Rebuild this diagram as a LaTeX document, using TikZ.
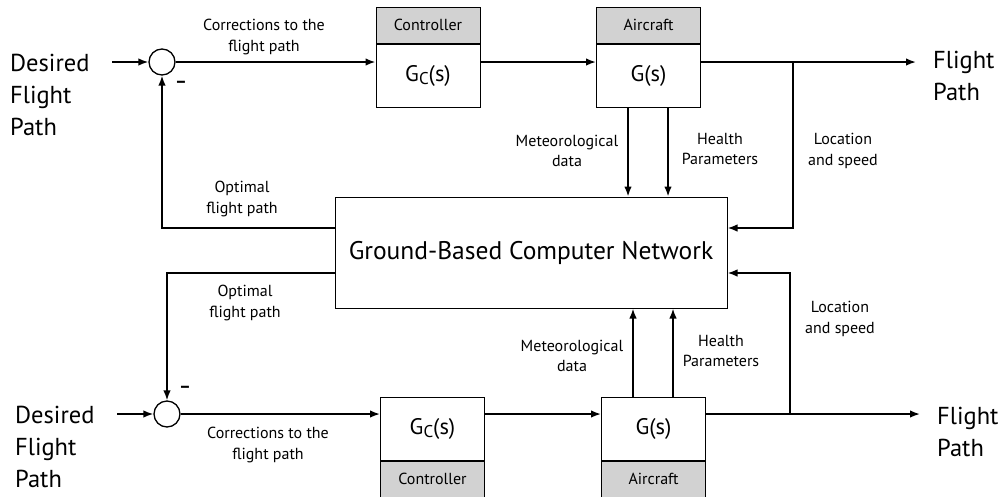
\documentclass[tikz,border=0pt]{standalone}
\usepackage{fontspec}
\setmainfont{PT Sans}
\usetikzlibrary{arrows.meta}

\newcommand{\gsubc}{G\raisebox{-0.3ex}{\fontsize{17}{17}\selectfont C}(s)}

\begin{document}
\begin{tikzpicture}[x=1pt, y=-1pt,
  blk/.style={draw, line width=1pt, minimum width=104pt, minimum height=63pt, inner sep=0pt, font=\fontsize{22.5}{24}\selectfont},
  tag/.style={draw, line width=1pt, fill=gray!35, minimum width=104pt, minimum height=36pt, inner sep=0pt, font=\fontsize{16}{18}\selectfont},
  sumnode/.style={draw, circle, line width=1.3pt, minimum size=26pt, inner sep=0pt},
  lbl/.style={align=center, font=\fontsize{16}{20.5}\selectfont},
  big/.style={align=left, anchor=west, inner sep=0pt, font=\fontsize{24.5}{32}\selectfont},
  arr/.style={line width=1.6pt, -{Latex[length=10pt,width=7.5pt]}},
  wire/.style={line width=1.6pt}]
\useasboundingbox (0,0) rectangle (1004,496);

% upper loop
\node[big] (des1) at (10,95) {Desired\\Flight\\Path};
\node[sumnode] (sum1) at (162,62) {};
\coordinate (in1) at (112,62);
\node[blk] (ctrl1) at (428,75.5) {\gsubc};
\node[tag, anchor=south] (ctrl1h) at (ctrl1.north) {Controller};
\node[blk] (ac1) at (648.5,75.5) {G(s)};
\node[tag, anchor=south] (ac1h) at (ac1.north) {Aircraft};
\coordinate (br1) at (793,62);
\coordinate (out1) at (916,62);
\node[big] (fp1) at (933,76) {Flight\\Path};

% network
\node[draw, line width=1pt, minimum width=392pt, minimum height=111pt, font=\fontsize{25.5}{28}\selectfont] (net) at (531,252.5) {Ground-Based Computer Network};

% lower loop
\node[big] (des2) at (15,447) {Desired\\Flight\\Path};
\node[sumnode] (sum2) at (167,414) {};
\coordinate (in2) at (117,414);
\node[blk] (ctrl2) at (432.5,428.5) {\gsubc};
\node[tag, anchor=north] (ctrl2h) at (ctrl2.south) {Controller};
\node[blk] (ac2) at (653.5,428.5) {G(s)};
\node[tag, anchor=north] (ac2h) at (ac2.south) {Aircraft};
\coordinate (br2) at (790,414);
\coordinate (out2) at (920,414);
\node[big] (fp2) at (937,432) {Flight\\Path};

% upper connectors
\draw[arr] (in1) -- (sum1);
\draw[arr] (sum1) -- (sum1 -| ctrl1.west);
\draw[arr] (sum1 -| ctrl1.east) -- (sum1 -| ac1.west);
\draw[arr] (sum1 -| ac1.east) -- (out1);
\draw[arr] (br1) |- ([yshift=24.5pt]net.east);
\draw[arr] ([yshift=24.5pt]net.west) -| (sum1.south);
\draw[arr] ([xshift=-20.5pt]ac1.south) -- ([xshift=-20.5pt]ac1.south |- net.north);
\draw[arr] ([xshift=19.5pt]ac1.south) -- ([xshift=19.5pt]ac1.south |- net.north);

% lower connectors
\draw[arr] (in2) -- (sum2);
\draw[arr] (sum2) -- (sum2 -| ctrl2.west);
\draw[arr] (sum2 -| ctrl2.east) -- (sum2 -| ac2.west);
\draw[arr] (sum2 -| ac2.east) -- (out2);
\draw[arr] (br2) |- ([yshift=-20.5pt]net.east);
\draw[arr] ([yshift=-20.5pt]net.west) -| (sum2.north);
\draw[arr] ([xshift=-20.5pt]ac2.north) -- ([xshift=-20.5pt]ac2.north |- net.south);
\draw[arr] ([xshift=19.5pt]ac2.north) -- ([xshift=19.5pt]ac2.north |- net.south);

% labels
\node[font=\fontsize{18}{20}\selectfont\bfseries] (m1) at (181,84) {--};
\node[font=\fontsize{18}{20}\selectfont\bfseries] (m2) at (185,389) {--};
\node[lbl] (cor1) at (264,37) {Corrections to the\\flight path};
\node[lbl] (opt1) at (242,199) {Optimal\\flight path};
\node[lbl] (met1) at (567,151) {Meteorological\\data};
\node[lbl] (hp1) at (720,149) {Health\\Parameters};
\node[lbl] (loc1) at (843,151) {Location\\and speed};
\node[lbl] (cor2) at (268,445) {Corrections to the\\flight path};
\node[lbl] (opt2) at (245,303) {Optimal\\flight path};
\node[lbl] (met2) at (572,356) {Meteorological\\data};
\node[lbl] (hp2) at (721,351) {Health\\Parameters};
\node[lbl] (loc2) at (840,319) {Location\\and speed};
\end{tikzpicture}
\end{document}
